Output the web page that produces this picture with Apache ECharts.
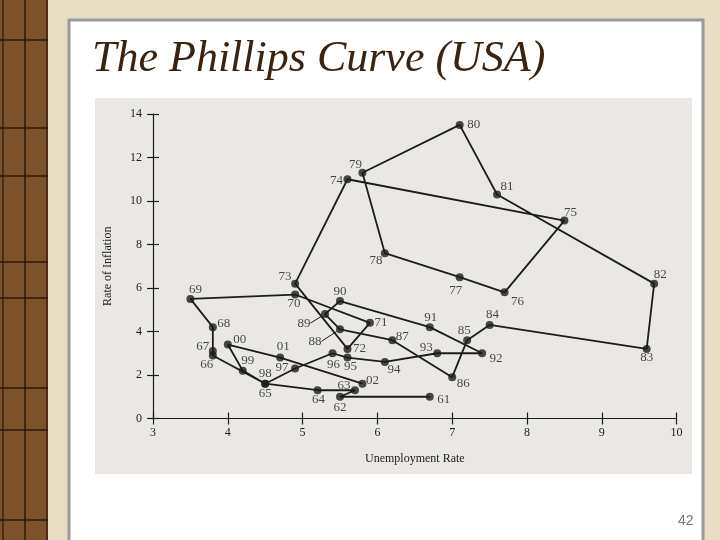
<!DOCTYPE html>
<html>
<head>
<meta charset="utf-8">
<script src="https://cdn.jsdelivr.net/npm/echarts@6/dist/echarts.min.js"></script>
<style>
html,body{margin:0;padding:0;background:#e6ddc3;}
#chart{width:720px;height:540px;}
</style>
</head>
<body>
<div id="chart"></div>
<script>
// ---- data ----
const years = ['61','62','63','64','65','66','67','68','69','70','71','72','73','74','75','76','77','78','79','80','81','82','83','84','85','86','87','88','89','90','91','92','93','94','95','96','97','98','99','00','01','02'];
const unemployment = [6.7,5.5,5.7,5.2,4.5,3.8,3.8,3.8,3.5,4.9,5.9,5.6,4.9,5.6,8.5,7.7,7.1,6.1,5.8,7.1,7.6,9.7,9.6,7.5,7.2,7.0,6.2,5.5,5.3,5.5,6.7,7.4,6.8,6.1,5.6,5.4,4.9,4.5,4.2,4.0,4.7,5.8];
const inflation    = [1.0,1.0,1.3,1.3,1.6,2.9,3.1,4.2,5.5,5.7,4.4,3.2,6.2,11.0,9.1,5.8,6.5,7.6,11.3,13.5,10.3,6.2,3.2,4.3,3.6,1.9,3.6,4.1,4.8,5.4,4.2,3.0,3.0,2.6,2.8,3.0,2.3,1.6,2.2,3.4,2.8,1.6];
const xTickMin = 3, xTickMax = 10, xTickStep = 1;
const yTickMin = 0, yTickMax = 14, yTickStep = 2;
const title = 'The Phillips Curve (USA)';
const xName = 'Unemployment Rate';
const yName = 'Rate of Inflation';
const pageNumber = '42';

// label placement (pixel offsets of each year label from its point)
const labelOffsets = {
 '61':[14,3],'62':[0,11],'63':[-11,-5],'64':[1,9],'65':[0,10],'66':[-6,9],'67':[-10,-4],'68':[11,-4],
 '69':[5,-9],'70':[-1,9],'71':[11,0],'72':[12,0],'73':[-10,-7],'74':[-11,1],'75':[6,-8],'76':[13,9],
 '77':[-4,13],'78':[-9,7],'79':[-7,-8],'80':[14,0],'81':[10,-8],'82':[6,-9],'83':[0,9],'84':[3,-10],
 '85':[-3,-10],'86':[11,6],'87':[10,-4],'88':[-25,12],'89':[-21,9],'90':[0,-9],'91':[1,-10],'92':[14,5],
 '93':[-11,-6],'94':[9,8],'95':[3,9],'96':[1,11],'97':[-13,-1],'98':[0,-10],'99':[5,-10],'00':[12,-5],
 '01':[3,-11],'02':[10,-3]
};
const leaderYears = ['88','89'];

const points = years.map((y,i)=>[unemployment[i], inflation[i]]);
const serif = 'Liberation Serif';
const ink = '#1c1c1c';

const chart = echarts.init(document.getElementById('chart'));
const stripLines = [40,128,176,262,298,388,430,520];
const graphic = [
  {type:'rect', z:-30, shape:{x:0,y:0,width:720,height:540}, style:{fill:'#e6ddc3'}},
  {type:'rect', z:-29, shape:{x:0,y:0,width:48,height:540}, style:{fill:'#7d5129'}},
  {type:'line', z:-28, shape:{x1:25,y1:0,x2:25,y2:540}, style:{stroke:'#2a1a0c',lineWidth:1.5}},
  {type:'line', z:-28, shape:{x1:3,y1:0,x2:3,y2:540}, style:{stroke:'#3a2510',lineWidth:1.5}},
  {type:'line', z:-28, shape:{x1:47,y1:0,x2:47,y2:540}, style:{stroke:'#3a2510',lineWidth:1.5}},
  {type:'rect', z:-27, shape:{x:69,y:20,width:634,height:530}, style:{fill:'#ffffff',stroke:'#9a9a9a',lineWidth:3}},
  {type:'rect', z:-26, shape:{x:95,y:98,width:597,height:376}, style:{fill:'#e9e8e5'}},
  {type:'text', z:5, left:92, top:37, style:{text:title, font:'italic 44px "Liberation Serif"', fill:'#3a2410'}},
  {type:'text', z:5, left:678, top:514, style:{text:pageNumber, font:'14px "Liberation Sans"', fill:'#777'}}
];
stripLines.forEach(y=>graphic.push({type:'line', z:-28, shape:{x1:0,y1:y,x2:48,y2:y}, style:{stroke:'#2a1a0c',lineWidth:1.5}}));

const axisText = {fontFamily:serif, fontSize:12, color:ink};
chart.setOption({
  animation:false,
  graphic: graphic,
  grid:{left:153, right:43.4, top:114, bottom:121.5},
  xAxis:[
    {type:'value', min:xTickMin, max:xTickMax, interval:xTickStep,
     axisLine:{show:true, onZero:false, lineStyle:{color:ink,width:1.2}},
     axisTick:{show:true, length:6, lineStyle:{color:ink,width:1.2}},
     splitLine:{show:false},
     axisLabel:Object.assign({margin:8}, axisText),
     name:xName, nameLocation:'middle', nameGap:34, nameTextStyle:{fontFamily:serif,fontSize:12,color:ink}},
    {type:'value', position:'bottom', min:xTickMin, max:xTickMax, interval:xTickStep,
     axisLine:{show:false}, axisTick:{show:true, inside:true, length:6, lineStyle:{color:ink,width:1.2}},
     axisLabel:{show:false}, splitLine:{show:false}}
  ],
  yAxis:[
    {type:'value', min:yTickMin, max:yTickMax, interval:yTickStep,
     axisLine:{show:true, onZero:false, lineStyle:{color:ink,width:1.2}},
     axisTick:{show:true, length:6, lineStyle:{color:ink,width:1.2}},
     splitLine:{show:false},
     axisLabel:Object.assign({margin:11}, axisText),
     name:yName, nameLocation:'middle', nameGap:39, nameRotate:90, nameTextStyle:{fontFamily:serif,fontSize:12,color:ink}},
    {type:'value', position:'left', min:yTickMin, max:yTickMax, interval:yTickStep,
     axisLine:{show:false}, axisTick:{show:true, inside:true, length:6, lineStyle:{color:ink,width:1.2}},
     axisLabel:{show:false}, splitLine:{show:false}}
  ],
  series:[
    {type:'line', xAxisIndex:0, yAxisIndex:0, data:points, symbol:'none', silent:true,
     lineStyle:{color:ink, width:1.8}},
    {type:'scatter', xAxisIndex:0, yAxisIndex:0, symbol:'circle', symbolSize:8, silent:true,
     itemStyle:{color:ink},
     data: points.map((p,i)=>({value:p,
        labelLine:{show: leaderYears.includes(years[i]), lineStyle:{color:ink,width:1}, length2:0}})),
     label:{show:true, position:'inside', formatter:p=>years[p.dataIndex],
        fontFamily:serif, fontSize:13, color:ink},
     labelLayout:function(params){const o = labelOffsets[years[params.dataIndex]]; return {dx:o[0], dy:o[1]};}
    }
  ]
});
</script>
</body>
</html>
